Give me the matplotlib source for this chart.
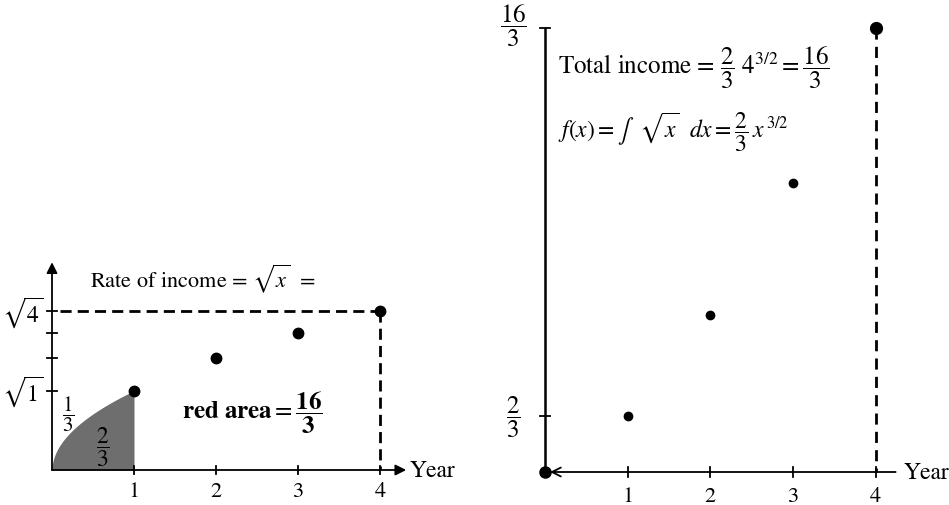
import numpy as np
import matplotlib
matplotlib.use("Agg")
import matplotlib.pyplot as plt

plt.rcParams['font.family'] = ['STIXGeneral', 'DejaVu Serif']
plt.rcParams['mathtext.fontset'] = 'stix'

# ---- data ----
years = [1, 2, 3, 4]
year_labels = ['1', '2', '3', '4']
rate_values = [1.0, 1.414, 1.732, 2.0]          # sqrt(year)
rate_ticks = [1.0, 1.414, 1.732, 2.0]
rate_tick_labels = {1.0: r'$\sqrt{1}$', 2.0: r'$\sqrt{4}$'}
income_values = [0.667, 1.886, 3.464, 5.333]    # (2/3) x^(3/2)
income_ticks = [0.667, 5.333]
income_tick_labels = [r'$\dfrac{2}{3}$', r'$\dfrac{16}{3}$']

W, H = 949, 506
fig = plt.figure(figsize=(W / 100, H / 100), dpi=100)


def make_axes(px_x0, ux, xlim, px_y0, uy, ylim):
    left = px_x0 + ux * xlim[0]
    width = ux * (xlim[1] - xlim[0])
    top = px_y0 - uy * ylim[1]
    bottom = px_y0 - uy * ylim[0]
    ax = fig.add_axes([left / W, 1 - bottom / H, width / W, (bottom - top) / H])
    ax.set_xlim(*xlim)
    ax.set_ylim(*ylim)
    ax.axis('off')
    return ax

FS = 16

# ================= left panel =================
axL = make_axes(52, 82, (-0.5, 5.0), 471, 79.3, (-0.44, 2.75))

# shaded area under sqrt from 0 to 1
xs = np.linspace(0, 1, 200)
axL.fill_between(xs, 0, np.sqrt(xs), color='#6e6e6e', lw=0, zorder=1)

# axes with arrows
axL.annotate('', xy=(4.32, 0), xytext=(0, 0),
             arrowprops=dict(arrowstyle='-|>', color='k', lw=1.3, mutation_scale=16,
                             shrinkA=0, shrinkB=0), zorder=3)
axL.annotate('', xy=(0, 2.62), xytext=(0, 0),
             arrowprops=dict(arrowstyle='-|>', color='k', lw=1.3, mutation_scale=16,
                             shrinkA=0, shrinkB=0), zorder=3)
for x in years:
    axL.plot([x, x], [-0.05, 0.05], color='k', lw=1.3, zorder=3)
    axL.text(x, -0.27, year_labels[x - 1], ha='center', va='center', fontsize=FS)
for y in rate_ticks:
    axL.plot([-0.06, 0.06], [y, y], color='k', lw=1.3, zorder=3)
    if y in rate_tick_labels:
        axL.text(-0.36, y, rate_tick_labels[y], ha='center', va='center', fontsize=FS + 1)

# dashed box
axL.plot([0.1, 4], [2, 2], color='k', lw=2.0, ls=(0, (4, 2.2)), zorder=2)
axL.plot([4, 4], [2, 0], color='k', lw=2.0, ls=(0, (4, 2.2)), zorder=2)

axL.plot(years, rate_values, 'o', color='k', ms=7.5, zorder=4)

axL.text(4.36, 0, 'Year', ha='left', va='center', fontsize=FS + 1)
axL.text(0.46, 2.42, r'Rate of income = $\sqrt{x}$  =', ha='left', va='center', fontsize=FS)
axL.text(0.2, 0.72, r'$\dfrac{1}{3}$', ha='center', va='center', fontsize=FS - 1)
axL.text(0.62, 0.30, r'$\dfrac{2}{3}$', ha='center', va='center', fontsize=FS + 1)
axL.text(1.58, 0.74, r'$\mathbf{red\ area} = \dfrac{\mathbf{16}}{\mathbf{3}}$',
         ha='left', va='center', fontsize=FS + 2)

# ================= right panel =================
axR = make_axes(545, 82.7, (-0.6, 4.85), 473, 83.3, (-0.4, 5.65))

axR.plot([0, 0], [0, income_ticks[-1]], color='k', lw=1.8, zorder=3)
axR.annotate('', xy=(0.06, 0), xytext=(4.24, 0),
             arrowprops=dict(arrowstyle='->', color='k', lw=1.3, mutation_scale=16,
                             shrinkA=0, shrinkB=0), zorder=3)
for x in years:
    axR.plot([x, x], [-0.06, 0.06], color='k', lw=1.3, zorder=3)
    axR.text(x, -0.29, year_labels[x - 1], ha='center', va='center', fontsize=FS)
for y, lab in zip(income_ticks, income_tick_labels):
    axR.plot([-0.06, 0.06], [y, y], color='k', lw=1.3, zorder=3)
    axR.text(-0.38, y + (0.04 if y > 1 else 0), lab, ha='center', va='center', fontsize=FS + 2)

axR.plot([4, 4], [income_values[-1], 0], color='k', lw=2.0, ls=(0, (4, 2.6)), zorder=2)

axR.plot(years[:3], income_values[:3], 'o', color='k', ms=6, zorder=4)
axR.plot([years[3]], [income_values[3]], 'o', color='k', ms=8.5, zorder=4)
axR.plot([0], [0], 'o', color='k', ms=8, zorder=4)

axR.text(4.34, 0, 'Year', ha='left', va='center', fontsize=FS + 1)
axR.text(0.16, 4.87, r'Total income = $\dfrac{2}{3}\ 4^{3/2} = \dfrac{16}{3}$',
         ha='left', va='center', fontsize=FS + 2)
axR.text(0.16, 4.09, r'$f(x) = \int\ \ \sqrt{x}\ \ dx = \dfrac{2}{3}\,x^{\,3/2}$',
         ha='left', va='center', fontsize=FS + 1)

fig.savefig('out.png', dpi=100)
